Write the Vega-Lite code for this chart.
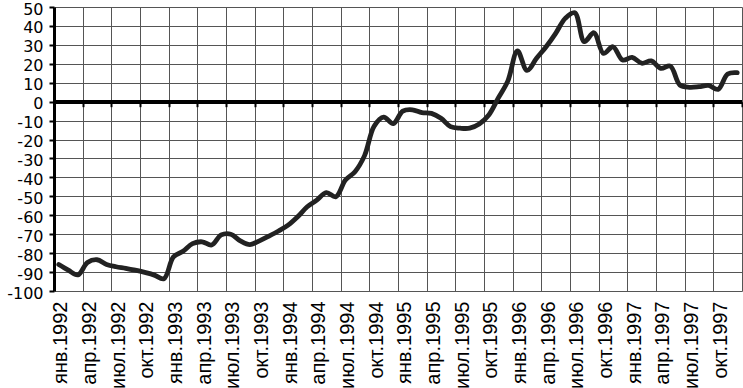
{
  "$schema": "https://vega.github.io/schema/vega-lite/v6.json",
  "width": 688,
  "height": 284,
  "autosize": {"type": "none"},
  "padding": {"left": 54, "top": 7, "right": 1, "bottom": 97},
  "background": "white",
  "config": {"view": {"stroke": null}},
  "data": {"values": [
    {"i": 0, "v": -86}, {"i": 1, "v": -89}, {"i": 2, "v": -91.5}, {"i": 3, "v": -85},
    {"i": 4, "v": -83.5}, {"i": 5, "v": -86}, {"i": 6, "v": -87.2}, {"i": 7, "v": -88},
    {"i": 8, "v": -89}, {"i": 9, "v": -90.2}, {"i": 10, "v": -91.6}, {"i": 11, "v": -93.5},
    {"i": 12, "v": -82}, {"i": 13, "v": -79}, {"i": 14, "v": -75}, {"i": 15, "v": -74},
    {"i": 16, "v": -75.7}, {"i": 17, "v": -70.4}, {"i": 18, "v": -70}, {"i": 19, "v": -73.5},
    {"i": 20, "v": -75.5}, {"i": 21, "v": -73.5}, {"i": 22, "v": -71}, {"i": 23, "v": -68.3},
    {"i": 24, "v": -65.2}, {"i": 25, "v": -60.8}, {"i": 26, "v": -55.5}, {"i": 27, "v": -52},
    {"i": 28, "v": -48.1}, {"i": 29, "v": -50.2}, {"i": 30, "v": -41.4}, {"i": 31, "v": -37},
    {"i": 32, "v": -28.5}, {"i": 33, "v": -13}, {"i": 34, "v": -8.2}, {"i": 35, "v": -11.6},
    {"i": 36, "v": -5}, {"i": 37, "v": -4.3}, {"i": 38, "v": -5.8}, {"i": 39, "v": -6.2},
    {"i": 40, "v": -8.8}, {"i": 41, "v": -13.2}, {"i": 42, "v": -14}, {"i": 43, "v": -14},
    {"i": 44, "v": -11.8}, {"i": 45, "v": -7}, {"i": 46, "v": 2}, {"i": 47, "v": 11},
    {"i": 48, "v": 26.8}, {"i": 49, "v": 16.5}, {"i": 50, "v": 22.9}, {"i": 51, "v": 29},
    {"i": 52, "v": 36.1}, {"i": 53, "v": 44}, {"i": 54, "v": 47}, {"i": 55, "v": 31.7},
    {"i": 56, "v": 36.4}, {"i": 57, "v": 25.5}, {"i": 58, "v": 29}, {"i": 59, "v": 22},
    {"i": 60, "v": 23.4}, {"i": 61, "v": 20.3}, {"i": 62, "v": 21.5}, {"i": 63, "v": 17.6},
    {"i": 64, "v": 18.8}, {"i": 65, "v": 8.8}, {"i": 66, "v": 7.6}, {"i": 67, "v": 7.9},
    {"i": 68, "v": 8.6}, {"i": 69, "v": 6.5}, {"i": 70, "v": 14.6}, {"i": 71, "v": 15.3}
  ]},
  "resolve": {"axis": {"x": "independent", "y": "independent"}},
  "layer": [
    {
      "mark": {"type": "rule", "color": "black", "strokeWidth": 3},
      "encoding": {
        "x": {"datum": -0.5, "type": "quantitative",
          "scale": {"domain": [-0.5, 71.5], "nice": false, "zero": false},
          "axis": {"orient": "bottom", "offset": -189.33, "title": null,
            "values": [2.5, 5.5, 8.5, 11.5, 14.5, 17.5, 20.5, 23.5, 26.5, 29.5, 32.5, 35.5, 38.5, 41.5, 44.5, 47.5, 50.5, 53.5, 56.5, 59.5, 62.5, 65.5, 68.5, 71.5],
            "labels": false, "domain": false, "ticks": true, "tickSize": 5, "tickWidth": 2, "tickColor": "black",
            "grid": true, "gridColor": "#555", "gridWidth": 1, "gridOpacity": 1}},
        "x2": {"datum": 71.5},
        "y": {"datum": 0, "type": "quantitative",
          "scale": {"domain": [-100, 50], "nice": false, "zero": false},
          "axis": {"orient": "left", "title": null,
            "values": [-100, -90, -80, -70, -60, -50, -40, -30, -20, -10, 0, 10, 20, 30, 40, 50],
            "labels": false, "domain": false, "ticks": false,
            "grid": true, "gridColor": "#555", "gridWidth": 1, "gridOpacity": 1}}
      }
    },
    {
      "mark": {"type": "line", "interpolate": "catmull-rom", "color": "#222", "strokeWidth": 4.8, "strokeJoin": "round", "strokeCap": "round"},
      "encoding": {
        "x": {"field": "i", "type": "quantitative",
          "scale": {"domain": [-0.5, 71.5], "nice": false, "zero": false},
          "axis": {"orient": "bottom", "title": null,
            "values": [0, 3, 6, 9, 12, 15, 18, 21, 24, 27, 30, 33, 36, 39, 42, 45, 48, 51, 54, 57, 60, 63, 66, 69],
            "labelExpr": "['янв.','апр.','июл.','окт.'][(datum.value/3)%4] + (1992 + floor(datum.value/12))",
            "labelAngle": -90, "labelAlign": "right", "labelBaseline": "middle",
            "labelFont": "Liberation Sans", "labelFontSize": 20, "labelColor": "black",
            "labelPadding": 10, "labelOverlap": false, "labelFlush": false, "labelOffset": 2,
            "domain": false, "ticks": false, "tickSize": 0, "grid": false}},
        "y": {"field": "v", "type": "quantitative",
          "scale": {"domain": [-100, 50], "nice": false, "zero": false},
          "axis": {"orient": "left", "title": null,
            "values": [-100, -90, -80, -70, -60, -50, -40, -30, -20, -10, 0, 10, 20, 30, 40, 50],
            "labelExpr": "datum.value",
            "labelFont": "DejaVu Sans", "labelFontSize": 16, "labelColor": "black", "labelPadding": 6,
            "labelOffset": 2,
            "labelOverlap": false, "labelFlush": false, "labelBound": false,
            "domain": true, "domainColor": "black", "domainWidth": 3,
            "ticks": true, "tickSize": 5, "tickWidth": 2, "tickColor": "black",
            "grid": false}}
      }
    }
  ]
}
